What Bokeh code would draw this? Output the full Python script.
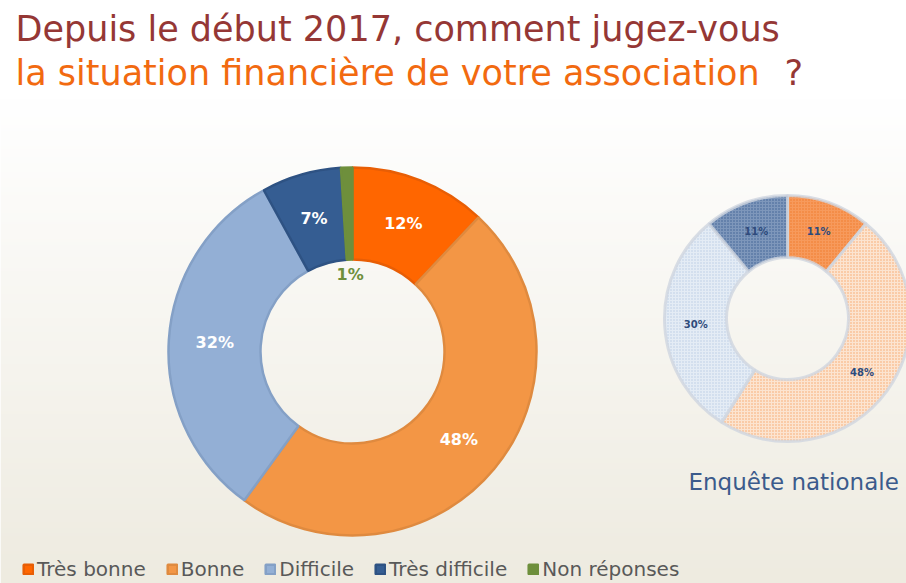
import numpy as np
from bokeh.plotting import figure
from bokeh.models import Range1d, Legend, LegendItem, ColumnDataSource
from bokeh.embed import file_html
from bokeh.resources import INLINE
from bokeh.core.properties import value

# ---------------- data ----------------
categories = ["Très bonne", "Bonne", "Difficile", "Très difficile", "Non réponses"]
values_2017 = [12, 48, 32, 7, 1]
national_categories = ["Très bonne", "Bonne", "Difficile", "Très difficile"]
values_national = [11, 48, 30, 11]

title_line1 = "Depuis le début 2017, comment jugez-vous"
title_line2 = "la situation financière de votre association"
national_caption = "Enquête nationale"

# ---------------- styles ----------------
main_fill = ["#FF6600", "#F39645", "#93AFD5", "#355D92", "#6E8F3C"]
main_line = ["#E85E05", "#DF8A3F", "#84A0C6", "#2E5283", "#6E8F3C"]
nat_fill = ["#F79A5C", "#FCE4D0", "#E4ECF5", "#7E97BB"]
nat_hatch = ["#F07A2A", "#F6A468", "#B9CAE2", "#3A5E92"]

FONT = "DejaVu Sans"
W, H = 906, 583


def Y(y_ref):
    return H - y_ref


p = figure(width=W, height=H, output_backend="svg", toolbar_location=None,
           x_range=Range1d(0, W), y_range=Range1d(0, H), min_border=0)
p.axis.visible = False
p.grid.visible = False
p.outline_line_color = None
p.background_fill_color = "white"
p.border_fill_color = "white"

# background gradient (white top -> beige bottom)
N = 200
rows = []
for j in range(N):
    yref = H - (j + 0.5) * H / N
    t = np.clip((yref - 100) / (H - 100), 0, 1)
    r = int(255 * (1 - t) + 238 * t)
    g = int(255 * (1 - t) + 235 * t)
    b = int(255 * (1 - t) + 224 * t)
    rows.append((255 << 24) | (b << 16) | (g << 8) | r)
img = np.array(rows, dtype=np.uint32).reshape(N, 1)
p.image_rgba(image=[img], x=0, y=0, dw=W, dh=H)


def donut_source(vals, cx, cy, r_in, r_out, fills, lines, labels):
    v = np.array(vals, dtype=float)
    frac = v / v.sum()
    cum = np.concatenate([[0], np.cumsum(frac)])
    start = np.pi / 2 - 2 * np.pi * cum[:-1]
    end = np.pi / 2 - 2 * np.pi * cum[1:]
    mid = (start + end) / 2
    lr = np.where(v < 3, r_in - 15, (r_in + r_out) / 2)
    return ColumnDataSource(dict(
        cat=labels, start=start, end=end,
        fill=fills, line=lines,
        lx=cx + lr * np.cos(mid), ly=cy + lr * np.sin(mid),
        txt=[f"{int(x)}%" for x in vals],
    ))


# ---------------- main donut ----------------
cx1, cy1, rin1, rout1 = 352, Y(351), 92, 184
src1 = donut_source(values_2017, cx1, cy1, rin1, rout1, main_fill, main_line, categories)
main_r = p.annular_wedge(x=cx1, y=cy1, inner_radius=rin1, outer_radius=rout1,
                         start_angle="start", end_angle="end", direction="clock",
                         fill_color="fill", line_color="line", line_width=2.5,
                         source=src1)
src1.data["lc"] = ["white", "white", "white", "white", "#6E8F3C"]
p.text(x="lx", y="ly", text="txt", source=src1, text_color="lc",
       text_font=value(FONT), text_font_style="bold", text_font_size="16px",
       text_align="center", text_baseline="middle")

# ---------------- national donut ----------------
cx2, cy2, rin2, rout2 = 787, Y(318), 61, 123
src2 = donut_source(values_national, cx2, cy2, rin2, rout2, nat_fill, nat_hatch, national_categories)
p.annular_wedge(x=cx2, y=cy2, inner_radius=rin2, outer_radius=rout2,
                start_angle="start", end_angle="end", direction="clock",
                fill_color="fill", line_color="#CFD6E0", line_width=3, line_alpha=0.8,
                hatch_pattern="dot", hatch_color="line", hatch_scale=3, hatch_weight=1.1,
                source=src2)
p.text(x="lx", y="ly", text="txt", source=src2, text_color="#2F4B7C",
       text_font=value(FONT), text_font_style="bold", text_font_size="10px",
       text_align="center", text_baseline="middle")

# ---------------- titles & caption ----------------
txt_src = ColumnDataSource(dict(
    x=[15, 15, 784, 688],
    y=[Y(28), Y(72), Y(72), Y(481)],
    t=[title_line1, title_line2, "?", national_caption],
    c=["#953735", "#F26A10", "#953735", "#3B5B8C"],
    s=["35px", "35px", "35px", "23px"],
))
p.text(x="x", y="y", text="t", source=txt_src, text_color="c",
       text_font=value(FONT), text_font_size="s",
       text_align="left", text_baseline="middle")

# ---------------- legend ----------------
items = [LegendItem(label=c, renderers=[main_r], index=i) for i, c in enumerate(categories)]
legend = Legend(items=items, orientation="horizontal", location=(22, 2),
                label_text_font=FONT, label_text_font_size="20px",
                label_text_color="#595959", glyph_width=12, glyph_height=12,
                label_standoff=3, spacing=20, padding=0, margin=0,
                label_height=14, background_fill_alpha=0, border_line_alpha=0)
p.add_layout(legend)

open("out.html", "w").write(file_html(p, INLINE))
